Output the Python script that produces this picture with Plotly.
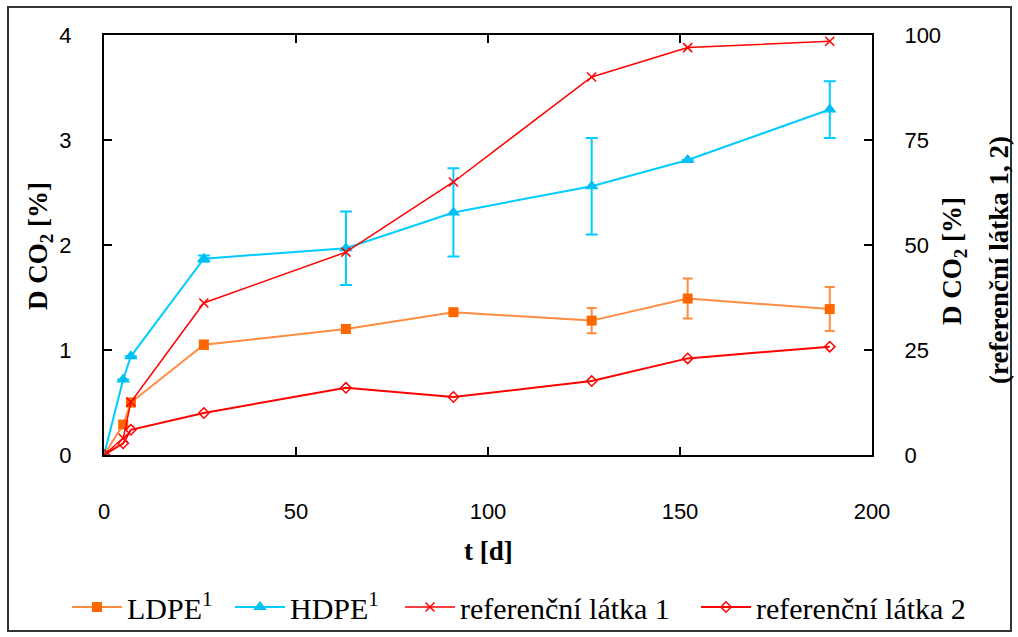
import plotly.graph_objects as go

# ---- data ----
days_pe = [0, 5, 7, 26, 63, 91, 127, 152, 189]
ldpe = [0, 0.29, 0.50, 1.05, 1.20, 1.36, 1.28, 1.49, 1.39]
ldpe_err = [0, 0, 0, 0.04, 0, 0, 0.12, 0.19, 0.21]
hdpe = [0, 0.72, 0.94, 1.87, 1.97, 2.31, 2.56, 2.81, 3.29]
hdpe_err = [0, 0, 0, 0.03, 0.35, 0.42, 0.46, 0, 0.27]

days_ref = [0, 5, 7, 26, 63, 91, 127, 152, 189]
ref1 = [0, 4.0, 12.6, 36.2, 48.3, 65.0, 90.0, 97.0, 98.5]
ref2 = [0, 2.8, 6.0, 10.0, 16.0, 13.8, 17.6, 23.0, 25.8]

x_ticks = [0, 50, 100, 150, 200]
y_ticks = [0, 1, 2, 3, 4]
y2_ticks = [0, 25, 50, 75, 100]

W, H = 1018, 637
L, R, T, B = 104, 872, 35, 455

def px(xp):
    return (xp - L) / (R - L)

def py(yp):
    return (B - yp) / (B - T)

ORANGE_LINE = "#FF8C40"
ORANGE_MARK = "#FF6600"
CYAN = "#00CCFF"
RED = "#FF0000"

fig = go.Figure()
fig.add_trace(go.Scatter(
    x=days_pe, y=ldpe, name="LDPE<sup>1</sup>", mode="lines+markers", legend="legend",
    line=dict(color=ORANGE_LINE, width=2),
    marker=dict(symbol="square", size=10, color=ORANGE_MARK),
    error_y=dict(type="data", array=ldpe_err, color=ORANGE_LINE, thickness=2, width=5),
))
fig.add_trace(go.Scatter(
    x=days_pe, y=hdpe, name="HDPE<sup>1</sup>", mode="lines+markers", legend="legend2",
    line=dict(color=CYAN, width=2),
    marker=dict(symbol="triangle-up", size=12, color="#00BFF3"),
    error_y=dict(type="data", array=hdpe_err, color=CYAN, thickness=2, width=6),
))
fig.add_trace(go.Scatter(
    x=days_ref, y=ref1, name="referenční látka 1", mode="lines+markers", yaxis="y2",
    legend="legend3",
    line=dict(color=RED, width=1.5),
    marker=dict(symbol="x-thin-open", size=9, color=RED, line=dict(color=RED, width=1.5)),
))
fig.add_trace(go.Scatter(
    x=days_ref, y=ref2, name="referenční látka 2", mode="lines+markers", yaxis="y2",
    legend="legend4",
    line=dict(color=RED, width=2),
    marker=dict(symbol="diamond-open", size=8, color=RED, line=dict(color=RED, width=1.5)),
))

tickfont = dict(family="Liberation Sans, Arial, sans-serif", size=22, color="#000")
axis_common = dict(showgrid=False, zeroline=False, showline=True, linecolor="#000",
                   linewidth=2, ticks="inside", ticklen=8, tickwidth=2, tickcolor="#000",
                   tickfont=tickfont, automargin=False)

legend_font = dict(family="Liberation Serif, Times New Roman, serif", size=30, color="#000")

def legend_at(xp):
    return dict(orientation="h", x=px(xp), y=py(607), xanchor="left", yanchor="middle",
                font=legend_font, bgcolor="rgba(0,0,0,0)", itemwidth=50)

fig.update_layout(
    width=W, height=H,
    margin=dict(l=L, r=W - R, t=T, b=H - B, pad=0, autoexpand=False),
    paper_bgcolor="white", plot_bgcolor="white",
    xaxis=dict(range=[0, 200], tickvals=x_ticks, mirror="ticks",
               ticklabelstandoff=36, **axis_common),
    yaxis=dict(range=[0, 4], tickvals=y_ticks, ticklabelstandoff=26, **axis_common),
    yaxis2=dict(range=[0, 100], tickvals=y2_ticks, overlaying="y", side="right",
                ticklabelstandoff=26, **axis_common),
    showlegend=True,
    legend=legend_at(67),
    legend2=legend_at(230),
    legend3=legend_at(400),
    legend4=legend_at(696),
    font=dict(family="Liberation Serif, serif", color="#000"),
)

title_font = dict(family="Liberation Serif, Times New Roman, serif", size=27, color="#000")
fig.add_annotation(text="<b>D CO<sub>2</sub> [%]</b>", xref="paper", yref="paper",
                   x=px(40), y=py(246), textangle=-90, showarrow=False, font=title_font,
                   xanchor="center", yanchor="middle")
fig.add_annotation(text="<b>D CO<sub>2</sub> [%]</b>", xref="paper", yref="paper",
                   x=px(954), y=py(261), textangle=-90, showarrow=False, font=title_font,
                   xanchor="center", yanchor="middle")
fig.add_annotation(text="<b>(referenční látka 1, 2)</b>", xref="paper", yref="paper",
                   x=px(999), y=py(260), textangle=-90, showarrow=False, font=title_font,
                   xanchor="center", yanchor="middle")
fig.add_annotation(text="<b>t [d]</b>", xref="paper", yref="paper",
                   x=px(488), y=py(551), showarrow=False, font=title_font,
                   xanchor="center", yanchor="middle")

# outer frame
fig.add_shape(type="rect", xref="paper", yref="paper",
              x0=px(8), x1=px(1011), y0=py(631), y1=py(7),
              line=dict(color="#333", width=2), fillcolor="rgba(0,0,0,0)", layer="below")

fig.write_html("out.html")
